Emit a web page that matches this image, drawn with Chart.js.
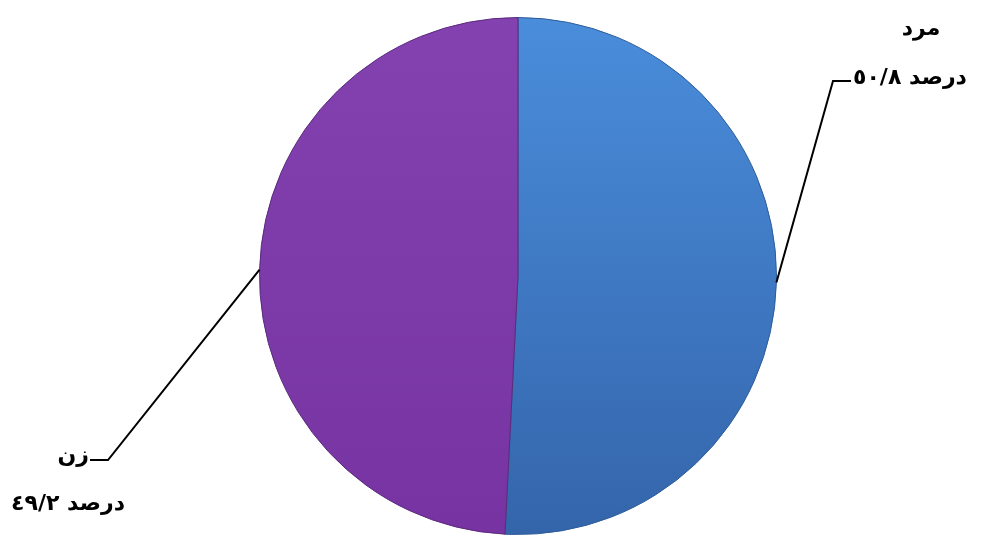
<!DOCTYPE html>
<html>
<head>
<meta charset="utf-8">
<script src="https://cdn.jsdelivr.net/npm/chart.js@4/dist/chart.umd.min.js"></script>
<style>
  html, body { margin: 0; padding: 0; background: #fff; }
  #wrap { position: relative; width: 983px; height: 546px; }
</style>
</head>
<body>
<div id="wrap"><canvas id="genderChart"></canvas></div>
<script>
// data
const labels = ['مرد', 'زن'];
const percents = [50.8, 49.2];
const unit = 'درصد';

// leader line elbow, relative to the pie center
const elbows = [{ dx: 315, dy: -195, dir: 1 }, { dx: -410, dy: 184, dir: -1 }];

// 50.8 -> ٥٠/٨
const toArabicNum = v => String(v).replace('.', '/').replace(/[0-9]/g, d => '٠١٢٣٤٥٦٧٨٩'[d]);

const sliceFill = (ctx) => {
  const area = ctx.chart.chartArea;
  if (!area) return null;
  const g = ctx.chart.ctx.createLinearGradient(0, area.top, 0, area.bottom);
  if (ctx.dataIndex === 0) {
    g.addColorStop(0, '#4a8ddb');
    g.addColorStop(1, '#3465ab');
  } else {
    g.addColorStop(0, '#8342b0');
    g.addColorStop(1, '#7733a2');
  }
  return g;
};

const leaderLabels = {
  id: 'leaderLabels',
  afterDatasetsDraw(chart) {
    const c = chart.ctx;
    const arcs = chart.getDatasetMeta(0).data;
    c.save();
    arcs.forEach((arc, i) => {
      const mid = (arc.startAngle + arc.endAngle) / 2;
      const ax = arc.x + Math.cos(mid) * arc.outerRadius;
      const ay = arc.y + Math.sin(mid) * arc.outerRadius;
      const e = elbows[i];
      const ex = arc.x + e.dx, ey = arc.y + e.dy;
      const hx = ex + e.dir * 18;
      c.strokeStyle = '#000';
      c.lineWidth = 2;
      c.beginPath();
      c.moveTo(ax, ay);
      c.lineTo(ex, ey);
      c.lineTo(hx, ey);
      c.stroke();

      c.fillStyle = '#000';
      c.font = 'bold 22px "DejaVu Sans"';
      c.textBaseline = 'middle';
      // LRM keeps the number on the left of the word, as in the original
      const pct = toArabicNum(percents[i]) + '\u200E ' + unit;
      if (e.dir > 0) {
        c.textAlign = 'left';
        c.fillText(pct, hx + 2, ey - 3);
        c.textAlign = 'center';
        c.fillText(labels[i], hx + 70, ey - 52);
      } else {
        c.textAlign = 'right';
        c.fillText(labels[i], hx - 1, ey - 4);
        c.textAlign = 'center';
        c.fillText(pct, hx - 22, ey + 44);
      }
    });
    c.restore();
  }
};

new Chart(document.getElementById('genderChart'), {
  type: 'pie',
  data: {
    labels: labels,
    datasets: [{
      data: percents,
      backgroundColor: sliceFill,
      borderColor: ['#2e5c98', '#5a2a7c'],
      borderWidth: 1
    }]
  },
  options: {
    responsive: true,
    maintainAspectRatio: false,
    animation: false,
    layout: { padding: { top: 17, bottom: 11, left: 53, right: 0 } },
    plugins: {
      legend: { display: false },
      tooltip: { enabled: false }
    }
  },
  plugins: [leaderLabels]
});
</script>
</body>
</html>
